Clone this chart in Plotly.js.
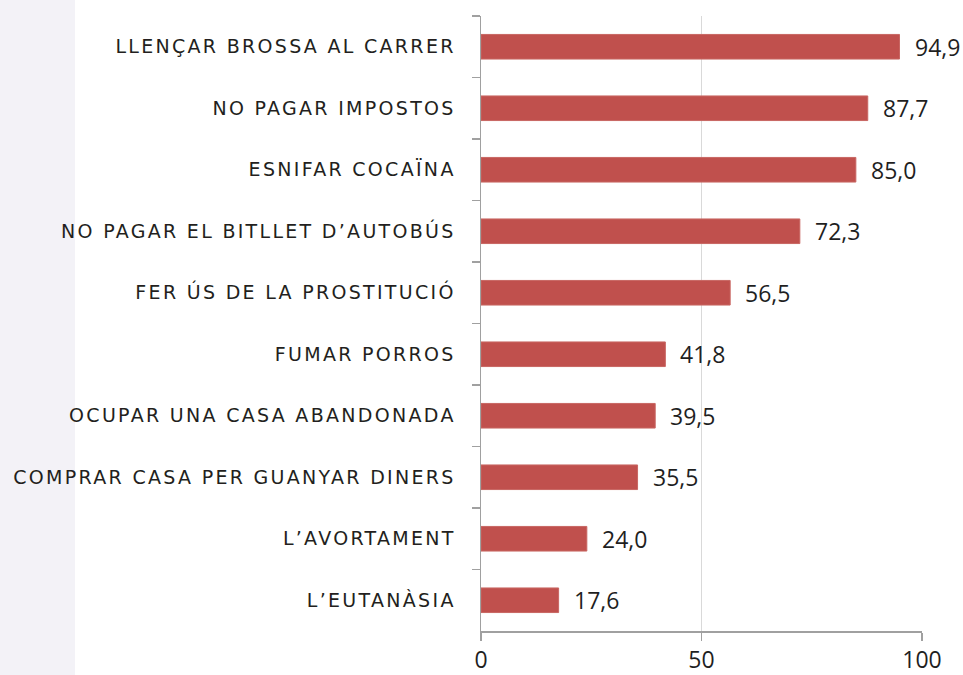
<!DOCTYPE html>
<html>
<head>
<meta charset="utf-8">
<script src="https://cdn.plot.ly/plotly-3.0.1.min.js"></script>
<style>
  html, body { margin: 0; padding: 0; }
  body { width: 963px; height: 675px; background: linear-gradient(to right, #F3F2F7 0px, #F3F2F7 75px, #ffffff 75px); }
  #chart { width: 963px; height: 675px; }
  .ytick text { letter-spacing: 2.3px; }
</style>
</head>
<body>
<div id="chart"></div>
<script>
const categories = [
  "LLENÇAR BROSSA AL CARRER",
  "NO PAGAR IMPOSTOS",
  "ESNIFAR COCAÏNA",
  "NO PAGAR EL BITLLET D’AUTOBÚS",
  "FER ÚS DE LA PROSTITUCIÓ",
  "FUMAR PORROS",
  "OCUPAR UNA CASA ABANDONADA",
  "COMPRAR CASA PER GUANYAR DINERS",
  "L’AVORTAMENT",
  "L’EUTANÀSIA"
];
const values = [94.9, 87.7, 85.0, 72.3, 56.5, 41.8, 39.5, 35.5, 24.0, 17.6];
const xTicks = [0, 50, 100];
const xTickLabels = ["0", "50", "100"];

const fmt = v => v.toFixed(1).replace('.', ',');

const trace = {
  type: 'bar',
  orientation: 'h',
  x: values,
  y: categories,
  marker: { color: '#C0504D', line: { color: '#C86662', width: 1 } },
  hoverinfo: 'none'
};

const annotations = values.map((v, i) => ({
  x: v, y: categories[i], xref: 'x', yref: 'y',
  text: fmt(v), showarrow: false, xanchor: 'left', yanchor: 'middle',
  xshift: 13, yshift: 0,
  font: { family: 'Open Sans, Noto Sans, sans-serif', size: 23, color: '#1f1f1f' }
}));

const layout = {
  width: 963, height: 675,
  margin: { l: 481, r: 41, t: 16, b: 44 },
  paper_bgcolor: 'rgba(0,0,0,0)',
  plot_bgcolor: 'rgba(0,0,0,0)',
  bargap: 0.6,
  showlegend: false,
  xaxis: {
    range: [0, 100],
    tickvals: xTicks, ticktext: xTickLabels,
    showgrid: true, gridcolor: '#D9D9D9', gridwidth: 1,
    zeroline: false,
    showline: true, linecolor: '#A0A0A0', linewidth: 1.5,
    ticks: 'outside', ticklen: 8, tickcolor: '#A0A0A0', tickwidth: 1.5,
    tickfont: { family: 'Open Sans, Noto Sans, sans-serif', size: 23, color: '#1f1f1f' },
    fixedrange: true
  },
  yaxis: {
    type: 'category',
    autorange: 'reversed',
    showgrid: false, zeroline: false,
    showline: true, linecolor: '#A0A0A0', linewidth: 1.5,
    ticks: 'outside', tickson: 'boundaries', ticklen: 8, tickcolor: '#A0A0A0', tickwidth: 1.5,
    ticklabelstandoff: 20,
    tickfont: { family: 'DejaVu Sans, sans-serif', size: 19, color: '#231F20' },
    fixedrange: true
  },
  annotations: annotations
};

Plotly.newPlot('chart', [trace], layout, { displayModeBar: false, staticPlot: true });
</script>
</body>
</html>
